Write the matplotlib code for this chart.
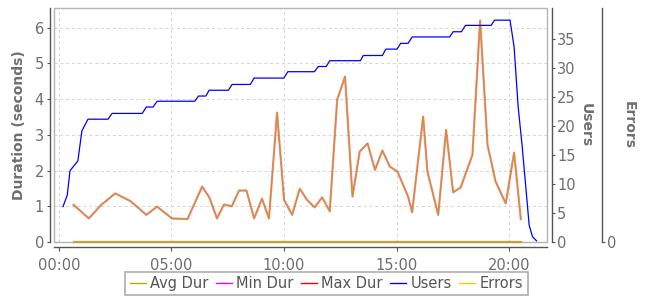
import matplotlib
matplotlib.use("Agg")
import matplotlib.pyplot as plt
from matplotlib.ticker import FuncFormatter, MultipleLocator
from matplotlib.patches import Rectangle
from matplotlib.lines import Line2D

# ---- data (minutes since start) ----
dur_t = [0.65, 1.33, 1.88, 2.50, 3.19, 3.88, 4.36, 5.02, 5.71, 6.36, 6.68, 7.02, 7.33,
         7.68, 8.00, 8.33, 8.67, 9.02, 9.33, 9.69, 10.00, 10.36, 10.70, 11.02, 11.36,
         11.69, 12.03, 12.36, 12.71, 13.04, 13.36, 13.71, 14.04, 14.37, 14.70, 15.04,
         15.51, 15.69, 16.18, 16.37, 16.85, 17.20, 17.51, 17.85, 18.37, 18.71, 19.04,
         19.40, 19.85, 20.22, 20.52]
avg_dur = [1.04, 0.66, 1.04, 1.36, 1.14, 0.76, 0.99, 0.66, 0.64, 1.55, 1.25, 0.66, 1.05,
           1.00, 1.44, 1.44, 0.66, 1.21, 0.66, 3.62, 1.18, 0.76, 1.49, 1.18, 0.97,
           1.25, 0.86, 3.98, 4.63, 1.27, 2.53, 2.76, 2.02, 2.56, 2.11, 1.97,
           1.27, 0.83, 3.51, 1.97, 0.76, 3.14, 1.39, 1.53, 2.44, 6.20, 2.72,
           1.69, 1.08, 2.50, 0.64]
min_dur = list(avg_dur)
max_dur = list(avg_dur)
errors = [0] * len(dur_t)

users_t = [0.18, 0.37, 0.49, 0.84, 1.02, 1.29,
           2.18, 2.36, 3.70, 3.88, 4.18, 4.36, 6.03, 6.20, 6.53, 6.67, 7.53, 7.69,
           8.50, 8.67, 9.99, 10.17, 11.35, 11.52, 11.87, 12.03, 13.39, 13.52, 14.37,
           14.52, 15.02, 15.18, 15.51, 15.69, 17.36, 17.51, 17.88, 18.06, 19.20,
           19.35, 20.04,
           20.22, 20.40, 20.58, 20.74, 20.89, 21.04, 21.22]
users = [6.1, 8.1, 12.3, 14.0, 19.2, 21.2,
         21.2, 22.2, 22.2, 23.3, 23.3, 24.3, 24.3, 25.2, 25.2, 26.2, 26.2, 27.2,
         27.2, 28.3, 28.3, 29.4, 29.4, 30.3, 30.3, 31.3, 31.3, 32.2, 32.2,
         33.3, 33.3, 34.3, 34.3, 35.4, 35.4, 36.3, 36.3, 37.4, 37.4,
         38.3, 38.3,
         33.7, 23.4, 16.5, 9.5, 2.9, 0.9, 0.2]

user_ticks = [0, 5, 10, 15, 20, 25, 30, 35]

# ---- style ----
txt = "#6e6e6e"
axc = "#555555"
plt.rcParams["font.family"] = "DejaVu Sans"
px = 72 / 100  # one pixel in points

fig = plt.figure(figsize=(6.5, 3.0), dpi=100)
ax = fig.add_axes([54 / 650, 58 / 300, (546.5 - 54) / 650, (242 - 8) / 300])
ax2 = ax.twinx()
ax3 = ax.twinx()

# duration lines (all three coincide)
ax.plot(dur_t, max_dur, color="#ff0000", lw=1.6, alpha=0.4, zorder=3)
ax.plot(dur_t, min_dur, color="#ff00ff", lw=1.4, alpha=0.15, zorder=3)
ax.plot(dur_t, avg_dur, color="#b0a000", lw=0.8, alpha=0.8, zorder=4)

ax.set_xlim(-0.22, 21.66)
ax.set_ylim(0, 6.55)
ax.xaxis.set_major_locator(MultipleLocator(5))
ax.xaxis.set_major_formatter(FuncFormatter(lambda v, p: "%02d:00" % int(round(v))))
ax.yaxis.set_major_locator(MultipleLocator(1))
ax.grid(True, color="#d4d4d4", ls=(0, (3, 3)), lw=0.7)
ax.set_axisbelow(True)
ax.set_ylabel("Duration (seconds)", color=txt, fontsize=10, fontweight="bold", labelpad=6)

# users
ax2.plot(users_t, users, color="#0000ff", lw=0.9, zorder=3)
ax2.set_ylim(0, 40.4)
ax2.set_yticks(user_ticks)
ax2.set_ylabel("Users", color=txt, fontsize=10, fontweight="bold", rotation=270, labelpad=12)

# errors
ax3.plot(dur_t, errors, color="#c8a030", lw=1.6, zorder=2, clip_on=False)
ax3.set_ylim(0, 1)
ax3.set_yticks([0])
ax3.set_ylabel("Errors", color=txt, fontsize=10, fontweight="bold", rotation=270, labelpad=14)

# spines
for a in (ax, ax2, ax3):
    for s in a.spines.values():
        s.set_visible(False)
ax.spines["left"].set_visible(True)
ax.spines["left"].set_position(("outward", 4.5 * px))
ax.spines["bottom"].set_visible(True)
ax.spines["bottom"].set_position(("outward", 5 * px))
ax2.spines["right"].set_visible(True)
ax2.spines["right"].set_position(("outward", 5 * px))
ax3.spines["right"].set_visible(True)
ax3.spines["right"].set_position(("outward", 55 * px))
for s in (ax.spines["left"], ax.spines["bottom"], ax2.spines["right"], ax3.spines["right"]):
    s.set_color(axc)
    s.set_linewidth(1.0)

ax.tick_params(axis="both", colors=axc, labelcolor=txt, length=2, width=0.8, pad=2)
ax.tick_params(axis="x", labelsize=10.5, pad=5, length=3)
ax.tick_params(axis="y", labelsize=10.5)
for a in (ax2, ax3):
    a.tick_params(axis="y", colors=axc, labelcolor=txt, length=2, width=0.8, labelsize=10.5, pad=2)

# gray plot frame
ax.add_patch(Rectangle((0, 0), 1, 1, transform=ax.transAxes, fill=False,
                       edgecolor="#b4b4b4", lw=1.0, clip_on=False, zorder=5))

# legend
handles = [Line2D([], [], color="#b0b000", lw=1),
           Line2D([], [], color="#ff00ff", lw=1),
           Line2D([], [], color="#ff0000", lw=1),
           Line2D([], [], color="#0000ff", lw=1),
           Line2D([], [], color="#ffc800", lw=1)]
labels = ["Avg Dur", "Min Dur", "Max Dur", "Users", "Errors"]
leg = fig.legend(handles, labels, loc="center", bbox_to_anchor=(326.5 / 650, 1 - 283.5 / 300),
                 ncol=5, frameon=True, fancybox=False, fontsize=10.5, handlelength=1.1,
                 handletextpad=0.3, columnspacing=0.5, borderpad=0.3, borderaxespad=0)
leg.get_frame().set_edgecolor("#999999")
leg.get_frame().set_linewidth(1.2)
for t in leg.get_texts():
    t.set_color("#555555")

fig.savefig("out.png", dpi=100)
